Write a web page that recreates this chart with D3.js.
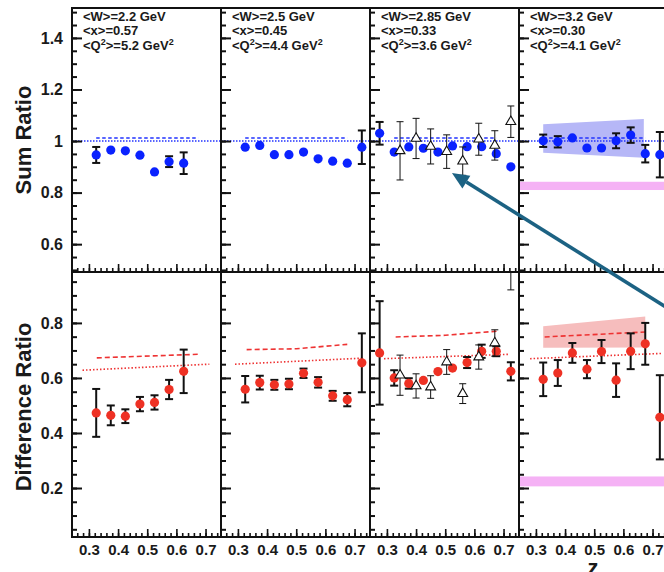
<!DOCTYPE html>
<html>
<head>
<meta charset="utf-8">
<script src="https://cdn.jsdelivr.net/npm/d3@7"></script>
<style>
body { margin: 0; background: #fff; }
text { font-family: "Liberation Sans", Arial, sans-serif; font-weight: bold; fill: #1a1a1a; }
</style>
</head>
<body>
<div id="chart"></div>
<script>
// Kinematics of each panel
var kinW = ["2.2", "2.5", "2.85", "3.2"];
var kinX = ["0.57", "0.45", "0.33", "0.30"];
var kinQ2 = ["5.2", "4.4", "3.6", "4.1"];

// z bins of the circle points, per panel
var zCircles = [
  [0.325, 0.375, 0.425, 0.475, 0.525, 0.575, 0.625],
  [0.325, 0.375, 0.425, 0.475, 0.525, 0.575, 0.625, 0.675, 0.725],
  [0.275, 0.325, 0.375, 0.425, 0.475, 0.525, 0.575, 0.625, 0.675, 0.725],
  [0.325, 0.375, 0.425, 0.475, 0.525, 0.575, 0.625, 0.675, 0.725]
];

// Sum ratio (blue circles)
var sumValues = [
  [0.946, 0.965, 0.962, 0.945, 0.880, 0.920, 0.914],
  [0.976, 0.983, 0.947, 0.947, 0.957, 0.931, 0.922, 0.914, 0.976],
  [1.030, 0.957, 0.977, 0.972, 0.957, 0.981, 0.978, 0.978, 0.951, 0.900],
  [1.001, 0.997, 1.012, 0.973, 0.973, 1.001, 1.023, 0.951, 0.947]
];
var sumErrors = [
  [0.031, 0.006, 0.006, 0.006, 0.006, 0.021, 0.042],
  [0.006, 0.006, 0.006, 0.006, 0.006, 0.006, 0.006, 0.006, 0.065],
  [0.044, 0.006, 0.006, 0.006, 0.006, 0.006, 0.006, 0.006, 0.006, 0.014],
  [0.024, 0.022, 0.006, 0.006, 0.006, 0.029, 0.030, 0.034, 0.088]
];

// Difference ratio (red circles)
var diffValues = [
  [0.473, 0.464, 0.461, 0.505, 0.511, 0.558, 0.624],
  [0.559, 0.583, 0.575, 0.578, 0.617, 0.584, 0.535, 0.521, 0.655],
  [0.691, 0.600, 0.580, 0.591, 0.623, 0.636, 0.656, 0.697, 0.697, 0.624],
  [0.595, 0.618, 0.691, 0.632, 0.696, 0.592, 0.697, 0.724, 0.457]
];
var diffErrors = [
  [0.087, 0.036, 0.025, 0.026, 0.026, 0.035, 0.079],
  [0.048, 0.025, 0.018, 0.019, 0.017, 0.019, 0.018, 0.024, 0.107],
  [0.188, 0.028, 0.019, 0.006, 0.006, 0.016, 0.020, 0.024, 0.018, 0.033],
  [0.061, 0.047, 0.036, 0.033, 0.042, 0.061, 0.065, 0.076, 0.153]
];

// Open triangles (third panel only)
var triPanel = 2;
var triZ = [0.345, 0.40, 0.45, 0.505, 0.56, 0.615, 0.67, 0.725];
var triSum = [0.962, 1.010, 0.979, 0.959, 0.922, 1.007, 0.983, 1.075];
var triSumErr = [0.113, 0.078, 0.068, 0.065, 0.055, 0.062, 0.057, 0.061];
var triDiff = [0.610, 0.571, 0.567, 0.658, 0.543, 0.676, 0.727, 1.020];
var triDiffErr = [0.073, 0.044, 0.041, 0.045, 0.036, 0.044, 0.048, 0.100];

// Model curves
var sumDashedZ = [0.325, 0.675];
var sumDashed = [1.012, 1.012];
var sumDotted = 1.0;
var diffDashedZ = [[0.327, 0.675], [0.33, 0.5, 0.675], [0.33, 0.5, 0.68], [0.33, 0.675]];
var diffDashed = [[0.673, 0.686], [0.703, 0.706, 0.722], [0.749, 0.755, 0.770], [0.749, 0.767]];
var diffDottedZ = [[0.278, 0.713], [0.29, 0.73], [0.29, 0.72], [0.28, 0.73]];
var diffDotted = [[0.628, 0.650], [0.650, 0.672], [0.670, 0.686], [0.670, 0.689]];

// Bands (fourth panel only)
var bandPanel = 3;
var sumBandZ = [0.325, 0.67];
var sumBandHi = [1.065, 1.085];
var sumBandLo = [0.955, 0.935];
var diffBandZ = [0.325, 0.675];
var diffBandHi = [0.788, 0.823];
var diffBandLo = [0.710, 0.711];
var sumSysBand = [0.810, 0.842];
var diffSysBand = [0.206, 0.242];

// Tick labels
var xTickLabels = [0.3, 0.4, 0.5, 0.6, 0.7];
var sumTickLabels = [0.6, 0.8, 1.0, 1.2, 1.4];
var diffTickLabels = [0.2, 0.4, 0.6, 0.8];

// Layout
var width = 664, height = 572;
var panelLeft = 72, panelWidth = 149;
var nPanels = 4;
var rTop = 8, rMid = 272, rBot = 537;

var svg = d3.select("#chart").append("svg")
    .attr("width", width)
    .attr("height", height)
    .style("background", "#fff");

var defs = svg.append("defs");

var yTop = d3.scaleLinear().domain([0.492, 1.516]).range([rMid, rTop]);
var yBot = d3.scaleLinear().domain([0.022, 0.985]).range([rBot, rMid]);
var rows = [{y: yTop, top: rTop, bottom: rMid, name: "sum"},
            {y: yBot, top: rMid, bottom: rBot, name: "diff"}];

function xScale(i) {
  return d3.scaleLinear()
    .domain([0.242, 0.753])
    .range([panelLeft + i * panelWidth, panelLeft + (i + 1) * panelWidth]);
}

var fmt = function(d) { return d === 1 ? "1" : d3.format(".1f")(d); };

// clip paths for each panel
rows.forEach(function(row, ri) {
  for (var i = 0; i < nPanels; i++) {
    defs.append("clipPath").attr("id", "clip" + ri + i)
      .append("rect")
      .attr("x", panelLeft + i * panelWidth)
      .attr("y", row.top)
      .attr("width", panelWidth)
      .attr("height", row.bottom - row.top);
  }
});

function errorBars(g, x, y, pts, color, lw, cap, r) {
  var bars = g.selectAll(null).data(pts.filter(function(d) {
      return Math.abs(y(d.v + d.e) - y(d.v)) > r;
    })).enter().append("g")
    .attr("stroke", color).attr("stroke-width", lw);
  bars.append("line")
    .attr("x1", function(d) { return x(d.z); })
    .attr("x2", function(d) { return x(d.z); })
    .attr("y1", function(d) { return y(d.v - d.e); })
    .attr("y2", function(d) { return y(d.v + d.e); });
  [-1, 1].forEach(function(s) {
    bars.append("line")
      .attr("x1", function(d) { return x(d.z) - cap; })
      .attr("x2", function(d) { return x(d.z) + cap; })
      .attr("y1", function(d) { return y(d.v + s * d.e); })
      .attr("y2", function(d) { return y(d.v + s * d.e); });
  });
}

var line = d3.line();

rows.forEach(function(row, ri) {
  var y = row.y;
  for (var i = 0; i < nPanels; i++) {
    var x = xScale(i);
    var g = svg.append("g").attr("clip-path", "url(#clip" + ri + i + ")");

    // systematic & model bands in the last panel
    if (i === bandPanel) {
      var sys = ri === 0 ? sumSysBand : diffSysBand;
      g.append("rect")
        .attr("x", x.range()[0])
        .attr("y", y(sys[1]))
        .attr("width", panelWidth)
        .attr("height", y(sys[0]) - y(sys[1]))
        .attr("fill", "#f5b2f5");
      var bz = ri === 0 ? sumBandZ : diffBandZ;
      var hi = ri === 0 ? sumBandHi : diffBandHi;
      var lo = ri === 0 ? sumBandLo : diffBandLo;
      var poly = bz.map(function(z, k) { return [x(z), y(hi[k])]; })
        .concat(bz.map(function(z, k) { return [x(z), y(lo[k])]; }).reverse());
      g.append("path")
        .attr("d", line(poly) + "Z")
        .attr("fill", ri === 0 ? "#b6b7f7" : "#f6bdbd");
    }

    // model curves
    if (ri === 0) {
      g.append("path")
        .attr("d", line([[x.range()[0], y(sumDotted)], [x.range()[1], y(sumDotted)]]))
        .attr("stroke", "#2233ff").attr("stroke-width", 1.6)
        .attr("stroke-dasharray", "1.5,1.5").attr("fill", "none");
      g.append("path")
        .attr("d", line(sumDashedZ.map(function(z, k) { return [x(z), y(sumDashed[k])]; })))
        .attr("stroke", "#2233ff").attr("stroke-width", 1.4)
        .attr("stroke-dasharray", "3.5,2.5").attr("fill", "none");
    } else {
      g.append("path")
        .attr("d", line(diffDottedZ[i].map(function(z, k) { return [x(z), y(diffDotted[i][k])]; })))
        .attr("stroke", "#ee3333").attr("stroke-width", 1.6)
        .attr("stroke-dasharray", "1.5,2").attr("fill", "none");
      g.append("path")
        .attr("d", line(diffDashedZ[i].map(function(z, k) { return [x(z), y(diffDashed[i][k])]; })))
        .attr("stroke", "#ee3333").attr("stroke-width", 1.6)
        .attr("stroke-dasharray", "5,3").attr("fill", "none");
    }

    // circle points
    var vals = ri === 0 ? sumValues[i] : diffValues[i];
    var errs = ri === 0 ? sumErrors[i] : diffErrors[i];
    var pts = zCircles[i].map(function(z, k) { return {z: z, v: vals[k], e: errs[k]}; });
    var color = ri === 0 ? "#0a22ff" : "#ee3124";
    errorBars(g, x, y, pts, "#111", 2, 4, 4.6);
    g.selectAll(null).data(pts).enter().append("circle")
      .attr("cx", function(d) { return x(d.z); })
      .attr("cy", function(d) { return y(d.v); })
      .attr("r", 4.6)
      .attr("fill", color);

    // open triangles
    if (i === triPanel) {
      var tv = ri === 0 ? triSum : triDiff;
      var te = ri === 0 ? triSumErr : triDiffErr;
      var tpts = triZ.map(function(z, k) { return {z: z, v: tv[k], e: te[k]}; });
      errorBars(g, x, y, tpts, "#111", 1, 3.5, 0);
      g.selectAll(null).data(tpts).enter().append("path")
        .attr("d", d3.symbol().type(d3.symbolTriangle).size(42))
        .attr("transform", function(d) { return "translate(" + x(d.z) + "," + y(d.v) + ")"; })
        .attr("fill", "#fff").attr("stroke", "#111").attr("stroke-width", 1.1);
    }

    // y ticks (inward)
    var yMajor = d3.axisRight(y).tickValues(d3.range(0.2, 1.41, 0.2).filter(function(v) {
        return v > y.domain()[0] && v < y.domain()[1]; }))
      .tickSize(10).tickFormat("").tickSizeOuter(0);
    var yMinor = d3.axisRight(y).tickValues(d3.range(0.05, 1.51, 0.05).filter(function(v) {
        return v > y.domain()[0] && v < y.domain()[1]; }))
      .tickSize(5).tickFormat("").tickSizeOuter(0);
    [yMajor, yMinor].forEach(function(ax) {
      var a = svg.append("g").attr("transform", "translate(" + x.range()[0] + ",0)").call(ax);
      a.select(".domain").remove();
      a.selectAll("line").attr("stroke", "#111").attr("stroke-width", 2);
    });

    // x ticks (pointing up)
    var xMajor = d3.axisTop(x).tickValues(xTickLabels).tickSize(8).tickFormat("").tickSizeOuter(0);
    var xMinor = d3.axisTop(x).tickValues(d3.range(0.26, 0.745, 0.02)).tickSize(4).tickFormat("").tickSizeOuter(0);
    [xMajor, xMinor].forEach(function(ax) {
      var a = svg.append("g").attr("transform", "translate(0," + row.bottom + ")").call(ax);
      a.select(".domain").remove();
      a.selectAll("line").attr("stroke", "#111").attr("stroke-width", 1.6);
    });

    // x tick labels under the bottom row
    if (ri === 1) {
      var xl = svg.append("g").attr("transform", "translate(0," + (rBot + 4) + ")")
        .call(d3.axisBottom(x).tickValues(xTickLabels).tickSize(0).tickFormat(d3.format(".1f")));
      xl.select(".domain").remove();
      xl.selectAll("text").attr("font-size", 15).attr("dy", "0.76em")
        .style("font-family", "'Liberation Sans', Arial, sans-serif").style("font-weight", "bold");
    }

    // panel frame
    svg.append("rect")
      .attr("x", x.range()[0]).attr("y", row.top)
      .attr("width", panelWidth).attr("height", row.bottom - row.top)
      .attr("fill", "none").attr("stroke", "#111").attr("stroke-width", 2);

    // kinematics annotation
    if (ri === 0) {
      var ann = svg.append("text").attr("font-size", 13);
      var x0 = x.range()[0] + 11;
      ann.append("tspan").attr("x", x0).attr("y", 20.5).text("<W>=" + kinW[i] + " GeV");
      ann.append("tspan").attr("x", x0).attr("y", 35).text("<x>=" + kinX[i]);
      ann.append("tspan").attr("x", x0).attr("y", 49.5).text("<Q");
      ann.append("tspan").attr("dy", -5).attr("font-size", 9).text("2");
      ann.append("tspan").attr("dy", 5).text(">=" + kinQ2[i] + " GeV");
      ann.append("tspan").attr("dy", -5).attr("font-size", 9).text("2");
    }
  }

  // y tick labels on the left panel
  var labels = ri === 0 ? sumTickLabels : diffTickLabels;
  var yl = svg.append("g").attr("transform", "translate(" + (panelLeft - 6) + ",0)")
    .call(d3.axisLeft(y).tickValues(labels).tickSize(0).tickFormat(fmt));
  yl.select(".domain").remove();
  yl.selectAll("text").attr("font-size", 16)
    .style("font-family", "'Liberation Sans', Arial, sans-serif").style("font-weight", "bold");

  // y axis title
  svg.append("text")
    .attr("transform", "translate(31," + (ri === 0 ? 140 : 407) + ") rotate(-90)")
    .attr("text-anchor", "middle")
    .attr("font-size", 22)
    .text(ri === 0 ? "Sum Ratio" : "Difference Ratio");
});

// x axis title
svg.append("text")
  .attr("x", 593).attr("y", 575)
  .attr("text-anchor", "middle")
  .attr("font-size", 22)
  .text("z");

// annotation arrow, placed in the third panel's top-row coordinates
var arrowTip = {z: 0.523, v: 0.876};
var arrowTail = {z: 1.305, v: 0.322};
var xa = xScale(triPanel);
var tip = [xa(arrowTip.z), yTop(arrowTip.v)];
var tail = [xa(arrowTail.z), yTop(arrowTail.v)];
var ang = Math.atan2(tip[1] - tail[1], tip[0] - tail[0]);
var headLen = 17, headHalf = 7.5;
var base = [tip[0] - headLen * Math.cos(ang), tip[1] - headLen * Math.sin(ang)];
svg.append("line")
  .attr("x1", tail[0]).attr("y1", tail[1])
  .attr("x2", base[0]).attr("y2", base[1])
  .attr("stroke", "#1c6283").attr("stroke-width", 3.6);
svg.append("path")
  .attr("d", line([tip,
    [base[0] - headHalf * Math.sin(ang), base[1] + headHalf * Math.cos(ang)],
    [base[0] + headHalf * Math.sin(ang), base[1] - headHalf * Math.cos(ang)]]) + "Z")
  .attr("fill", "#1c6283");
</script>
</body>
</html>
